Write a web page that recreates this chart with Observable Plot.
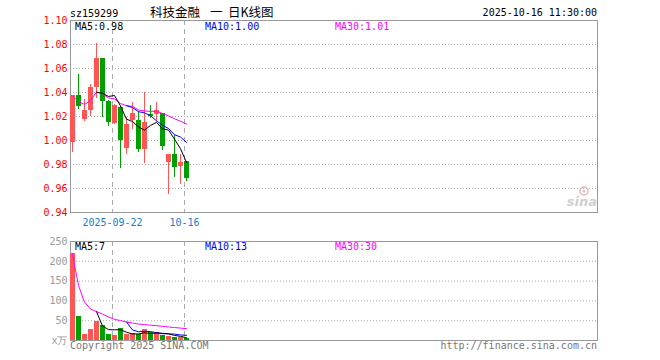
<!DOCTYPE html>
<html><head><meta charset="utf-8">
<script src="https://cdn.jsdelivr.net/npm/d3@7"></script>
<script src="https://cdn.jsdelivr.net/npm/@observablehq/plot@0.6"></script>
<style>
body{margin:0;background:#fff;}
#c{position:relative;width:660px;height:360px;overflow:hidden;}
#c svg{position:absolute;left:0;}
</style></head><body><div id="c"></div>
<script>
// ---- data ----
const opens  = [0.998,1.037,1.017,1.025,1.044,1.068,1.032,1.014,1.027,0.993,1.016,1.016,0.992,1.021,1.021,1.022,0.981,0.988,0.978,0.982];
const highs  = [1.037,1.055,1.034,1.047,1.081,1.068,1.033,1.030,1.028,1.019,1.032,1.024,1.040,1.029,1.032,1.022,0.988,1.004,0.988,0.982];
const lows   = [0.990,1.026,1.016,1.020,1.035,1.019,1.012,1.013,0.977,0.988,1.009,0.990,0.981,1.018,1.016,0.992,0.955,0.969,0.963,0.966];
const closes = [1.037,1.028,1.025,1.044,1.068,1.032,1.015,1.029,1.000,1.013,1.022,0.992,1.015,1.020,1.025,0.995,0.988,0.977,0.981,0.968];
const volumes = [218,59.3,13.9,26.5,46.7,36.6,13.9,11.4,28,13.9,15.6,13.9,26.5,18.1,19.8,12,8,6.5,6,3];
const priceMA5  = [null,null,null,null,1.0403,1.0393,1.0367,1.0375,1.0288,1.0178,1.0158,1.0113,1.0086,1.0126,1.0151,1.0097,1.0087,1.0011,0.9932,0.9817];
const priceMA10 = [null,null,null,null,null,null,null,null,null,1.0290,1.0275,1.0240,1.0230,1.0207,1.0164,1.0127,1.0100,1.0048,1.0029,0.9984];
const priceMA30 = [1.0370,1.0325,1.0300,1.0334,1.0403,1.0389,1.0355,1.0347,1.0308,1.0290,1.0284,1.0254,1.0246,1.0243,1.0244,1.0225,1.0205,1.0181,1.0161,1.0137];
const volMA5  = [null,null,null,null,72.9,36.6,27.5,27.0,27.3,20.8,16.6,16.6,19.6,17.6,18.8,18.1,16.9,12.9,10.5,7.1];
const volMA10 = [null,null,null,null,null,null,null,null,null,46.8,26.6,22.0,23.3,22.5,19.8,17.3,16.7,16.2,14.0,12.9];
const volMA30 = [218,138.7,97.1,79.4,72.9,66.8,59.3,53.3,50.5,46.8,44.0,41.5,40.3,38.7,37.5,35.9,34.2,32.7,31.3,29.9];
const markIdx = [7,19];
const markLabels = ["2025-09-22","10-16"];
const priceTicks = [0.94,0.96,0.98,1.00,1.02,1.04,1.06,1.08,1.10];
const priceGrid = [0.96,0.98,1.00,1.02,1.04,1.06,1.08];
const volTicks = [0,50,100,150,200,250];
const volGrid = [50,100,150,200];
const stockCode = "sz159299";
const titleParts = ["科技金融","一","日K线图"];
const timeText = "2025-10-16 11:30:00";
const priceLegend = ["MA5:0.98","MA10:1.00","MA30:1.01"];
const volLegend = ["MA5:7","MA10:13","MA30:30"];

// ---- build ----
const RED = "#ff5555", GREEN = "#00a000";
const LINECOL = ["#000000","#0000ff","#ff00ff"];
const CAP = 527/6;
const rows = closes.map((c,i)=>({i, o:opens[i], h:highs[i], l:lows[i], c, v:volumes[i], up:c>=opens[i]}));
const series = (arr)=>arr.map((y,i)=>({i,y})).filter(d=>d.y!=null);
const cx = d => d.i + 1/3;
const font = {fontFamily:"'DejaVu Sans Mono', monospace", fontSize:"10px", background:"transparent"};

function candleMarks(sel, color){
  return [
    Plot.ruleX(rows.filter(sel), {x:cx, y1:"l", y2:"h", stroke:color, shapeRendering:"crispEdges"}),
    Plot.rect(rows.filter(sel), {x1:d=>d.i, x2:d=>d.i+5/6, y1:d=>Math.min(d.o,d.c), y2:d=>Math.max(d.o,d.c), fill:color, dx:-0.5, dy:-0.5, shapeRendering:"crispEdges"})
  ];
}

const topPlot = Plot.plot({
  width:660, height:230, marginLeft:70, marginRight:63, marginTop:20, marginBottom:18,
  style:font,
  x:{domain:[0,CAP]},
  y:{domain:[0.94,1.10]},
  marks:[
    Plot.gridY(priceGrid, {stroke:"#aaa", strokeOpacity:1, strokeDasharray:"1,2"}),
    Plot.ruleX(markIdx, {stroke:"#aaa", strokeDasharray:"5,4"}),
    Plot.frame({stroke:"#999", shapeRendering:"crispEdges"}),
    Plot.axisY(priceTicks, {tickSize:0, tickPadding:3, fill:"#ff0000", tickFormat:d=>d.toFixed(2)}),
    Plot.axisX(markIdx, {tickSize:0, tickPadding:6, fill:"#1a7ad0", tickFormat:(d,i)=>markLabels[i]}),
    ...candleMarks(d=>d.up, RED),
    ...candleMarks(d=>!d.up, GREEN),
    Plot.line(series(priceMA30), {x:cx, y:"y", stroke:LINECOL[2], strokeWidth:1}),
    Plot.line(series(priceMA10), {x:cx, y:"y", stroke:LINECOL[1], strokeWidth:1}),
    Plot.line(series(priceMA5), {x:cx, y:"y", stroke:LINECOL[0], strokeWidth:1})
  ]
});
topPlot.style.top = "0px";

function volMarks(sel, color){
  return [Plot.rect(rows.filter(sel), {x1:d=>d.i, x2:d=>d.i+5/6, y1:0, y2:"v", fill:color, dx:-0.5, dy:-0.5, shapeRendering:"crispEdges"})];
}
const volPlot = Plot.plot({
  width:660, height:132, marginLeft:70, marginRight:63, marginTop:13, marginBottom:20,
  style:font,
  x:{domain:[0,CAP]},
  y:{domain:[0,250]},
  marks:[
    Plot.gridY(volGrid, {stroke:"#aaa", strokeOpacity:1, strokeDasharray:"1,2"}),
    Plot.ruleX(markIdx, {stroke:"#aaa", strokeDasharray:"5,4"}),
    Plot.frame({stroke:"#999", shapeRendering:"crispEdges"}),
    Plot.axisY(volTicks, {tickSize:0, tickPadding:3, fill:"#999", tickFormat:d=>d===0?"x万":String(d)}),
    Plot.axisX([], {}),
    ...volMarks(d=>d.up, RED),
    ...volMarks(d=>!d.up, GREEN),
    Plot.line(series(volMA30), {x:cx, y:"y", stroke:LINECOL[2], strokeWidth:1}),
    Plot.line(series(volMA10), {x:cx, y:"y", stroke:LINECOL[1], strokeWidth:1}),
    Plot.line(series(volMA5), {x:cx, y:"y", stroke:LINECOL[0], strokeWidth:1})
  ]
});
volPlot.style.top = "228px";

const c = document.getElementById("c");
c.appendChild(topPlot);
c.appendChild(volPlot);

// overlay texts
const ov = d3.select(c).append("svg").attr("width",660).attr("height",360)
  .style("top","0px").style("font-family","'DejaVu Sans Mono', monospace").style("font-size","10px");
ov.append("text").attr("x",70).attr("y",17).text(stockCode);
const titleX = [150,210,228];
titleParts.forEach((t,k)=>ov.append("text").attr("x",titleX[k]).attr("y",17)
  .style("font-family","'Noto Sans CJK SC'").style("font-size","12.5px").text(t));
ov.append("text").attr("x",597).attr("y",16).attr("text-anchor","end").text(timeText);
const legX = [75,205,335];
priceLegend.forEach((t,k)=>ov.append("text").attr("x",legX[k]).attr("y",30).attr("fill",LINECOL[k]).text(t));
volLegend.forEach((t,k)=>ov.append("text").attr("x",legX[k]).attr("y",250).attr("fill",LINECOL[k]).text(t));
ov.append("text").attr("x",70).attr("y",349).attr("fill","#777").text("Copyright 2025 SINA.COM");
ov.append("text").attr("x",597).attr("y",349).attr("text-anchor","end").attr("fill","#777").text("http://finance.sina.com.cn");
// sina logo
ov.append("circle").attr("cx",584).attr("cy",191).attr("r",4).attr("fill","none").attr("stroke","#f3b0b0").attr("stroke-width",1.5);
ov.append("circle").attr("cx",584).attr("cy",191).attr("r",1.5).attr("fill","#ccc");
ov.append("text").attr("x",597).attr("y",206).attr("text-anchor","end")
  .style("font-family","'DejaVu Sans'").style("font-size","13px").style("font-style","italic").style("font-weight","bold")
  .attr("fill","#cfcfcf").text("sina");
</script></body></html>
